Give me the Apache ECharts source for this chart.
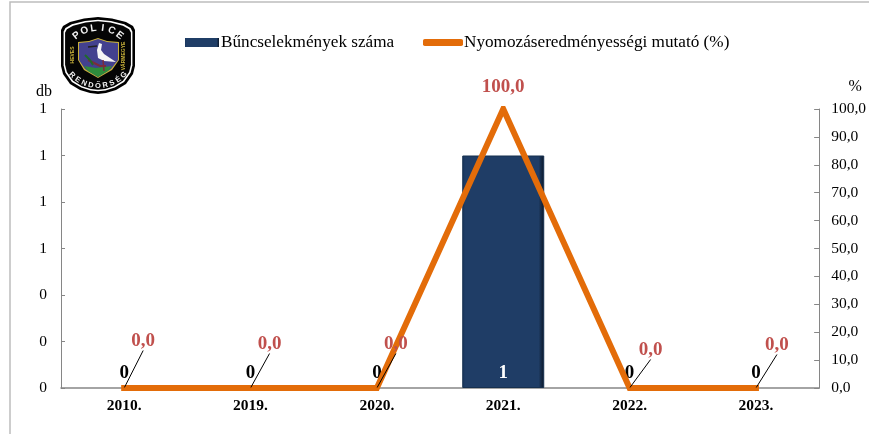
<!DOCTYPE html>
<html><head><meta charset="utf-8">
<style>html,body{margin:0;padding:0;background:#fff}#c{width:869px;height:434px}</style>
<script src="https://cdn.jsdelivr.net/npm/echarts@6/dist/echarts.min.js"></script>
</head><body><div id="c"></div>
<script>
const categories = ['2010.','2019.','2020.','2021.','2022.','2023.'];
const crimeCounts = [0,0,0,1,0,0];
const clearanceRates = [0,0,0,100,0,0];
const barName = 'Bűncselekmények száma';
const lineName = 'Nyomozáseredményességi mutató (%)';
const labelShifts = [[19,-32],[19,-29],[19,-29],[0,-7],[21,-23],[21,-28]];

const serif = '"Liberation Serif","Times New Roman",serif';
const chart = echarts.init(document.getElementById('c'), null, {renderer:'canvas'});

function outline(k){
  const pts=[[98,17],[84,18.5],[70,22],[63,26],[61,30],[61,66],[63,74],[70,84],[80,90],[90,93],[98,94],[106,93],[116,90],[126,84],[133,74],[135,66],[135,30],[133,26],[126,22],[112,18.5]];
  return pts.map(p=>[98+(p[0]-98)*k,55.5+(p[1]-55.5)*k]);
}
function arcText(str,cx,cy,r,start,step,size,fill,bottom){
  return str.split('').map((ch,i)=>{
    const a=(start+step*i)*Math.PI/180;
    return {type:'text',x:cx+r*Math.sin(a),y:cy-r*Math.cos(a),rotation:bottom?Math.PI-a:-a,
      style:{text:ch,fill,font:'bold '+size+'px "Liberation Sans",sans-serif',textAlign:'center',textVerticalAlign:'middle'},z:30,silent:true};
  });
}
const logo=[
 {type:'polygon',shape:{points:outline(1)},style:{fill:'#000'},z:20},
 {type:'polygon',shape:{points:outline(.93)},style:{fill:'#fff'},z:21},
 {type:'polygon',shape:{points:outline(.89)},style:{fill:'#050505'},z:22},
 {type:'polygon',shape:{points:[[78,42],[89,41],[98,38],[107,41],[119,42],[119,60],[112,70],[98,78],[84,70],[78,60]]},style:{fill:'#c9b23a'},z:23},
 {type:'polygon',shape:{points:[[79,43],[89,42],[98,39],[107,42],[118,43],[118,60],[111,69],[98,77],[85,69],[79,60]]},style:{fill:'#43418f'},z:24},
 {type:'polygon',shape:{points:[[84,66],[96,68],[112,66],[108,71],[98,77],[88,71]]},style:{fill:'#2e8b3c'},z:25},
 {type:'polygon',shape:{points:[[99,43],[102,44],[101,50],[104,54],[110,58],[116,62],[104,61],[98,58],[97,50]]},style:{fill:'#f5f5f5'},z:26},
 {type:'polyline',shape:{points:[[88,60],[100,66],[106,66]]},style:{stroke:'#7b2c3b',lineWidth:2,fill:null},z:26},
 {type:'polyline',shape:{points:[[103,60],[104,71]]},style:{stroke:'#7b2c3b',lineWidth:1.5,fill:null},z:26},
 {type:'polyline',shape:{points:[[85,55],[90,60],[93,65]]},style:{stroke:'#1f6b2d',lineWidth:2,fill:null},z:26},
 {type:'polyline',shape:{points:[[88,47],[97,46]]},style:{stroke:'#222',lineWidth:1.5,fill:null},z:27},
 ...arcText('POLICE',98,63,35,-38,15.2,10,'#f2f2f2',false),
 ...arcText('RENDŐRSÉG',98,50,36,226,-11.5,7.5,'#f2f2f2',true),
 {type:'text',x:73,y:55,rotation:Math.PI/2,style:{text:'HEVES',fill:'#c9b23a',font:'bold 5px "Liberation Sans"',textAlign:'center',textVerticalAlign:'middle'},z:30},
 {type:'text',x:124,y:56,rotation:Math.PI/2,style:{text:'VÁRMEGYE',fill:'#c9b23a',font:'bold 5px "Liberation Sans"',textAlign:'center',textVerticalAlign:'middle'},z:30}
];

chart.setOption({
  animation:false,
  backgroundColor:'#fff',
  textStyle:{fontFamily:serif},
  legend:[
    {data:[{name:barName,icon:'rect'}],left:185,top:34,itemWidth:34,itemHeight:9,
     textStyle:{fontFamily:serif,fontSize:17.2,color:'#000',padding:[0,0,0,-3]},padding:0},
    {data:[{name:lineName,icon:'roundRect',itemStyle:{color:'#e36c09'}}],left:423,top:34,itemWidth:40,itemHeight:7,
     textStyle:{fontFamily:serif,fontSize:17.2,color:'#000',padding:[0,0,0,-4]},padding:0}
  ],
  grid:{left:61,right:49.5,top:109,bottom:46,containLabel:false},
  xAxis:{type:'category',data:categories,
    axisLine:{lineStyle:{color:'#868686',width:1.5}},axisTick:{show:false},
    axisLabel:{color:'#000',fontFamily:serif,fontWeight:'bold',fontSize:15.5,margin:10}},
  yAxis:[
    {type:'value',min:0,max:1.2,interval:0.2,name:'db',nameLocation:'end',nameGap:9,
     nameTextStyle:{color:'#000',fontFamily:serif,fontSize:16,padding:[0,34,0,0]},
     splitLine:{show:false},
     axisLine:{show:true,lineStyle:{color:'#868686',width:1}},
     axisTick:{show:true,inside:true,length:4,lineStyle:{color:'#868686'}},
     axisLabel:{color:'#000',fontFamily:serif,fontSize:15.5,margin:14,padding:[4,0,0,0],formatter:v=>v.toFixed(0)}},
    {type:'value',min:0,max:100,interval:10,name:'%',nameLocation:'end',nameGap:14,position:'right',
     nameTextStyle:{color:'#000',fontFamily:serif,fontSize:16,padding:[0,0,0,72]},
     splitLine:{show:false},
     axisLine:{show:true,lineStyle:{color:'#868686',width:1}},
     axisTick:{show:true,inside:true,length:5,lineStyle:{color:'#868686'}},
     axisLabel:{color:'#000',fontFamily:serif,fontSize:15.5,margin:12,padding:[4,0,0,0],formatter:v=>v.toFixed(1).replace('.',',')}}
  ],
  series:[
    {name:barName,type:'bar',yAxisIndex:0,barWidth:82,
     data:crimeCounts.map(v=>({value:v,label:{color:v>0?'#fff':'#000'},itemStyle:{borderWidth:v>0?1:0}})),
     itemStyle:{borderColor:'#16304f',
       color:new echarts.graphic.LinearGradient(0,0,1,0,[
         {offset:0,color:'#17355c'},{offset:.04,color:'#1f3d66'},{offset:.93,color:'#1f3d66'},{offset:1,color:'#0a1626'}])},
     label:{show:true,position:'insideBottom',distance:5,fontFamily:serif,fontWeight:'bold',fontSize:19}},
    {name:lineName,type:'line',yAxisIndex:1,
     data:clearanceRates.map(v=>({value:v,labelLine:{show:v===0}})),
     symbol:'circle',symbolSize:1,showSymbol:true,clip:true,
     lineStyle:{color:'#e36c09',width:6,join:'miter',cap:'square'},
     itemStyle:{color:'#e36c09'},z:5,
     label:{show:true,position:'top',fontFamily:serif,fontWeight:'bold',fontSize:19,color:'#c0504d',
       formatter:p=>p.value.toFixed(1).replace('.',',')},
     labelLine:{show:true,lineStyle:{color:'#000',width:1}},
     labelLayout:p=>({dx:labelShifts[p.dataIndex][0],dy:labelShifts[p.dataIndex][1]})}
  ],
  graphic:[
    {type:'polyline',shape:{points:[[10,434],[10,2],[869,2]]},style:{stroke:'#bdbdbd',lineWidth:1.5,fill:null},z:1,silent:true},
    ...logo
  ]
});
</script></body></html>
